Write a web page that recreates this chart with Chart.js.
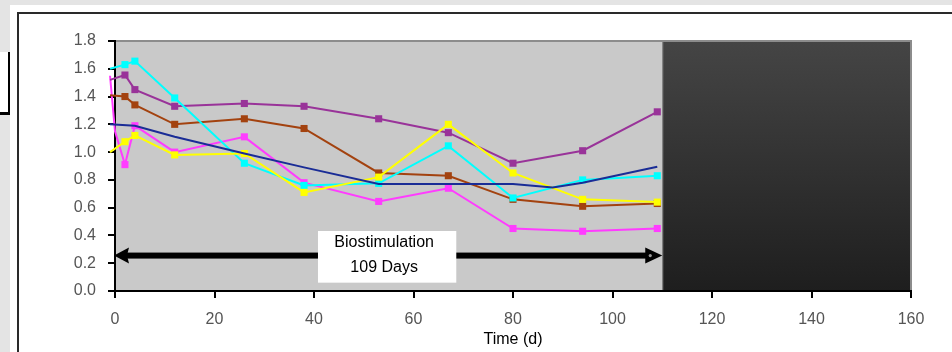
<!DOCTYPE html>
<html><head><meta charset="utf-8">
<script src="https://cdn.jsdelivr.net/npm/chart.js@4/dist/chart.umd.min.js"></script>
<style>
html,body{margin:0;padding:0;}
body{width:952px;height:352px;position:relative;overflow:hidden;background:#e4e4e4;}
#white{position:absolute;left:10px;top:5px;right:0;bottom:0;background:#fff;}
#frame{position:absolute;left:17px;top:12px;right:-10px;bottom:-10px;border-left:2px solid #2a2a2a;border-top:2px solid #2a2a2a;}
#legend{position:absolute;left:0;top:52px;width:8px;height:60px;background:#fff;border-right:2px solid #000;border-bottom:3px solid #000;}
#c{position:absolute;left:0;top:0;}
</style></head>
<body>
<div id="white"></div><div id="frame"></div><div id="legend"></div>
<canvas id="c" width="952" height="352"></canvas>
<script>
// ---- data ----
const days = [-1, 2, 4, 12, 26, 38, 53, 67, 80, 94, 109];
const purple = [1.52, 1.555, 1.45, 1.33, 1.35, 1.33, 1.24, 1.14, 0.92, 1.01, 1.29];
const brown  = [1.41, 1.40, 1.34, 1.20, 1.24, 1.17, 0.85, 0.83, 0.66, 0.61, 0.63];
const cyan   = [1.60, 1.63, 1.655, 1.39, 0.92, 0.76, 0.775, 1.045, 0.67, 0.80, 0.83];
const yellow = [1.00, 1.075, 1.12, 0.98, 0.99, 0.71, 0.82, 1.20, 0.85, 0.66, 0.64];
const magentaDays = [-1, 0, 2, 4, 12, 26, 38, 53, 67, 80, 94, 109];
const magenta = [1.55, 1.15, 0.91, 1.19, 1.0, 1.11, 0.78, 0.645, 0.74, 0.45, 0.43, 0.45];
const blueDays = [-1, 4, 12, 26, 38, 53, 67, 80, 88, 94, 109];
const blue = [1.2, 1.19, 1.11, 0.99, 0.89, 0.77, 0.77, 0.77, 0.745, 0.78, 0.895];
const arrowDays = [0, 110];
const arrowLevel = [0.255, 0.255];
const shadeFrom = 110;
const boxDays = [40.8, 68.6];
const boxLevels = [0.432, 0.06];
const boxText = ['Biostimulation', '109 Days'];
const xTicks = [0, 20, 40, 60, 80, 100, 120, 140, 160];
const yTicks = [0.0, 0.2, 0.4, 0.6, 0.8, 1.0, 1.2, 1.4, 1.6, 1.8];
const xTitle = 'Time (d)';

const pts = (xs, ys) => xs.map((x, i) => ({x, y: ys[i]}));
const markerR = ctx => (ctx.raw && ctx.raw.x < 1) ? 0 : 5;
const FONT = '"Liberation Sans", Arial, sans-serif';

function series(data, color, markers) {
  return {
    data, borderColor: color, backgroundColor: color, borderWidth: 2,
    pointStyle: 'rect', pointRadius: markers ? markerR : 0, pointBorderWidth: 0,
    pointHoverRadius: 0, tension: 0, clip: {left: 7, top: 8, right: 0, bottom: 0}
  };
}

const bgPlugin = {
  id: 'bg',
  beforeDraw(chart) {
    const {ctx, chartArea: a, scales: {x}} = chart;
    const xs = x.getPixelForValue(shadeFrom);
    ctx.save();
    ctx.fillStyle = '#c9c9c9';
    ctx.fillRect(a.left, a.top, xs - a.left, a.bottom - a.top);
    const g = ctx.createLinearGradient(0, a.top, 0, a.bottom);
    g.addColorStop(0, '#454545');
    g.addColorStop(1, '#1e1e1e');
    ctx.fillStyle = g;
    ctx.fillRect(xs, a.top, a.right - xs, a.bottom - a.top);
    ctx.strokeStyle = '#8c8c8c';
    ctx.lineWidth = 2;
    ctx.strokeRect(a.left, a.top, a.right - a.left, a.bottom - a.top);
    ctx.lineWidth = 1;
    ctx.beginPath(); ctx.moveTo(xs + 0.5, a.top); ctx.lineTo(xs + 0.5, a.bottom); ctx.stroke();
    ctx.restore();
  },
  afterDatasetsDraw(chart) {
    const {ctx, scales: {x, y}} = chart;
    ctx.save();
    // double-headed arrow
    const x0 = x.getPixelForValue(arrowDays[0]) - 1;
    const x1 = x.getPixelForValue(arrowDays[1]);
    const ya = y.getPixelForValue(arrowLevel[0]);
    ctx.fillStyle = '#000';
    ctx.fillRect(x0 + 10, ya - 3, (x1 - 12) - (x0 + 10), 6);
    ctx.beginPath();
    ctx.moveTo(x0, ya); ctx.lineTo(x0 + 15, ya - 8); ctx.lineTo(x0 + 13, ya); ctx.lineTo(x0 + 15, ya + 8);
    ctx.closePath(); ctx.fill();
    ctx.beginPath();
    ctx.moveTo(x1, ya); ctx.lineTo(x1 - 17, ya - 8); ctx.lineTo(x1 - 17, ya + 8);
    ctx.closePath(); ctx.fill();
    ctx.fillStyle = '#9a9a9a';
    ctx.beginPath(); ctx.arc(x1 - 12, ya, 1.6, 0, Math.PI * 2); ctx.fill();
    // label box
    const bx0 = x.getPixelForValue(boxDays[0]), bx1 = x.getPixelForValue(boxDays[1]);
    const by0 = y.getPixelForValue(boxLevels[0]), by1 = y.getPixelForValue(boxLevels[1]);
    ctx.fillStyle = '#fff';
    ctx.fillRect(bx0, by0, bx1 - bx0, by1 - by0);
    ctx.fillStyle = '#000';
    ctx.font = '16px ' + FONT;
    ctx.textAlign = 'center';
    ctx.textBaseline = 'middle';
    const cx = (bx0 + bx1) / 2 - 3;
    ctx.fillText(boxText[0], cx, by0 + 12);
    ctx.fillText(boxText[1], cx, by0 + 37);
    ctx.restore();
  }
};

new Chart(document.getElementById('c'), {
  type: 'line',
  data: {
    datasets: [
      series(pts(blueDays, blue), '#1a2c96', false),
      series(pts(days, yellow), '#ffff00', true),
      series(pts(days, cyan), '#00ffff', true),
      series(pts(days, purple), '#993399', true),
      series(pts(days, brown), '#a3420f', true),
      series(pts(magentaDays, magenta), '#ff3cff', true)
    ]
  },
  options: {
    responsive: false,
    animation: false,
    events: [],
    layout: {padding: {left: 55, top: 41, right: 41, bottom: 3}},
    plugins: {legend: {display: false}, tooltip: {enabled: false}},
    scales: {
      x: {
        type: 'linear', min: 0, max: 160,
        afterBuildTicks: s => { s.ticks = xTicks.map(v => ({value: v})); },
        afterFit: s => { s.height = 58; },
        border: {color: '#000', width: 2},
        grid: {drawOnChartArea: false, drawTicks: true, tickLength: 7, color: '#000', lineWidth: 2},
        ticks: {color: '#555', font: {family: FONT, size: 16}, padding: 12, maxRotation: 0,
                callback: v => String(v)},
        title: {display: true, text: xTitle, color: '#000', font: {family: FONT, size: 16}, padding: {top: 0, bottom: 0}}
      },
      y: {
        type: 'linear', min: 0, max: 1.8,
        afterBuildTicks: s => { s.ticks = yTicks.map(v => ({value: v})); },
        afterFit: s => { s.width = 60; },
        border: {color: '#000', width: 2},
        grid: {drawOnChartArea: false, drawTicks: true, tickLength: 7, color: '#000', lineWidth: 2},
        ticks: {color: '#555', font: {family: FONT, size: 16}, padding: 12,
                callback: v => Number(v).toFixed(1)}
      }
    }
  },
  plugins: [bgPlugin]
});
</script>
</body></html>
